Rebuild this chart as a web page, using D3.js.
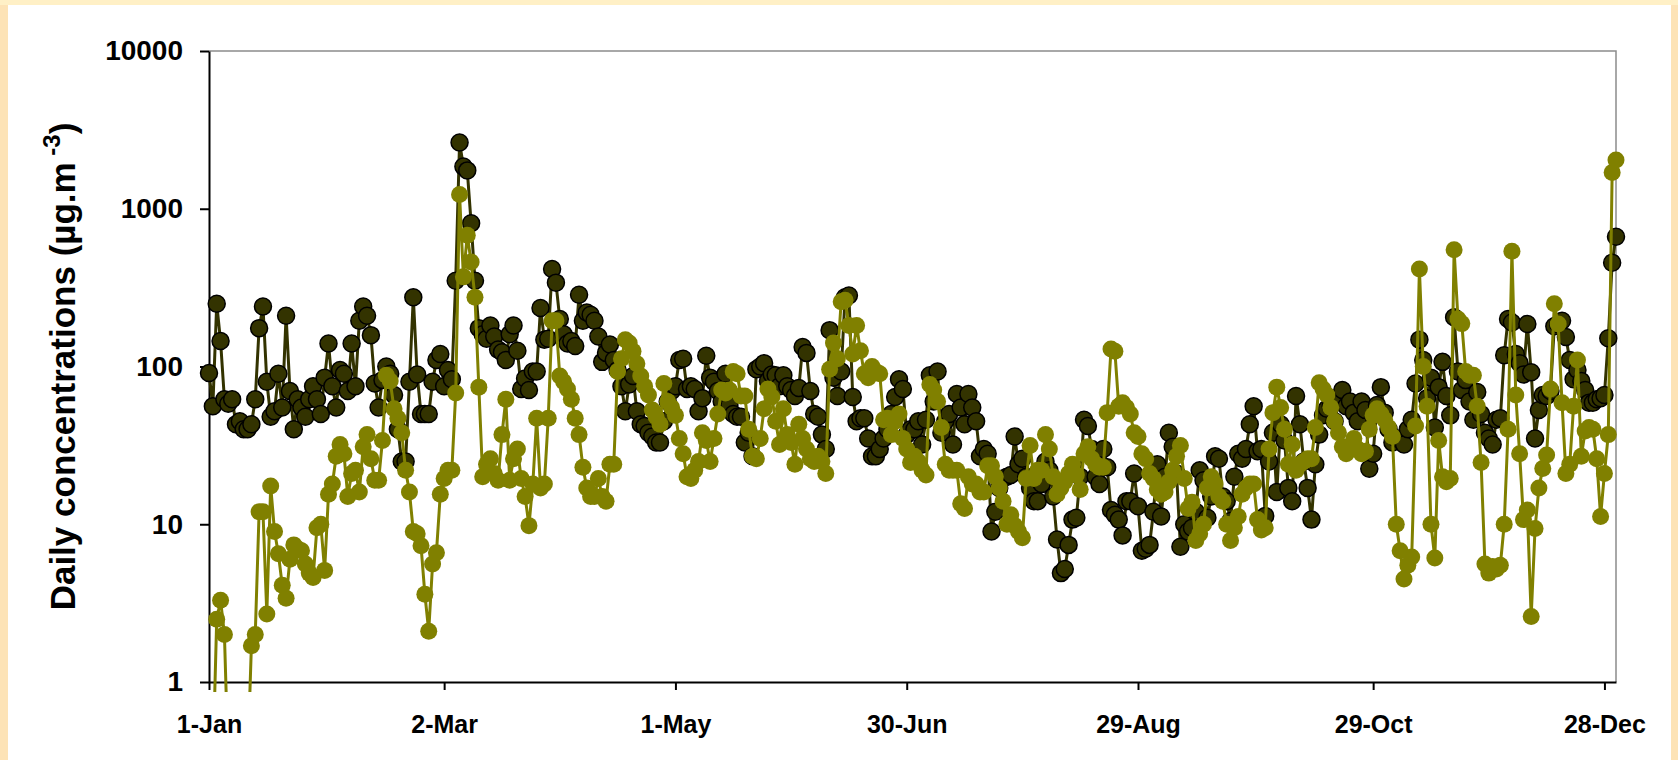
<!DOCTYPE html>
<html>
<head>
<meta charset="utf-8">
<script src="https://cdn.jsdelivr.net/npm/d3@7"></script>
<style>
  html, body { margin: 0; padding: 0; background: #fff; }
  svg { display: block; }
</style>
</head>
<body>
<svg id="chart"></svg>
<script>
const year = 2000;
const tickLabels = ['1-Jan', '2-Mar', '1-May', '30-Jun', '29-Aug', '29-Oct', '28-Dec'];
const yTicks = [1, 10, 100, 1000, 10000];

// daily values, 1-Jan .. 31-Dec (values below 1 fall under the axis)
const darkSeries = [
  91, 56, 250, 145, 62, 58, 62, 43, 45, 40,
  40, 43, 62, 175, 240, 80, 48, 52, 90, 55,
  210, 70, 40, 62, 55, 48, 62, 75, 62, 50,
  85, 140, 75, 55, 95, 90, 70, 140, 75, 195,
  240, 210, 158, 78, 55, 82, 100, 90, 66, 40,
  25, 25, 80, 275, 89, 50, 50, 50, 80, 110,
  120, 75, 95, 83, 350, 2630, 1850, 1750, 810, 350,
  175, 160, 150, 182, 155, 128, 123, 110, 160, 182,
  126, 72, 84, 71, 93, 93, 235, 148, 150, 415,
  340, 200, 160, 140, 145, 135, 285, 195, 220, 213,
  195, 155, 107, 122, 138, 110, 95, 75, 52, 77,
  87, 52, 43, 42, 38, 36, 33, 33, 45, 60,
  70, 75, 110, 112, 72, 75, 72, 52, 63, 117,
  85, 80, 70, 60, 90, 57, 50, 48, 48, 33,
  38, 27, 96, 100, 105, 81, 89, 88, 75, 88,
  75, 71, 65, 73, 133, 122, 70, 50, 48, 37,
  30, 170, 85, 65, 93, 275, 282, 64, 45, 47,
  47, 35, 27, 27, 30, 35, 40, 50, 64, 83,
  72, 37, 40, 40, 45, 32, 46, 88, 60, 93,
  38, 45, 50, 32, 67, 55, 43, 67, 55, 45,
  27, 30, 28, 9, 12, 17, 19.5, 20, 20.5, 36,
  24, 26, 20, 17, 14, 14, 18, 25, 22, 15,
  8, 4.9, 5.2, 7.4, 10.7, 11, 20, 46, 42, 30,
  20, 18, 30, 23, 12.3, 11.5, 10.7, 8.5, 14, 14,
  21, 13, 6.8, 7, 7.4, 12, 24, 11.2, 20, 38,
  31, 21, 7.2, 10, 9, 9.5, 12, 22, 19, 11,
  15, 27, 26, 15, 14, 10.5, 20, 28, 26, 30,
  43, 56, 29, 30, 11.3, 25, 38, 16, 43, 34,
  17, 14, 65, 43, 25, 17, 10.7, 24, 37, 49,
  54, 56, 45, 60, 71, 56, 60, 51, 45, 60,
  53, 22.5, 28, 57, 74, 51, 40, 33, 35, 35,
  32, 40, 46, 78, 148, 110, 63, 85, 41, 74,
  107, 65, 49, 205, 93, 71, 82, 60, 46, 69,
  50, 38, 35, 32, 46, 47, 118, 200, 190, 120,
  105, 89, 186, 92, 35, 53, 66, 65, 70, 180,
  186, 195, 154, 110, 83, 95, 81, 71, 59, 59,
  62, 63, 66, 151, 455, 665,
];

const oliveSeries = [
  0.3, 0.3, 2.5, 3.3, 2.0, 0.3, 0.3, 0.3, 0.3, 0.3,
  0.3, 1.7, 2.0, 12, 12, 2.7, 17.5, 9, 6.5, 4.1,
  3.4, 6, 7.4, 7, 6.8, 5.6, 4.9, 4.6, 9.5, 10,
  5.1, 15.5, 18, 27, 32, 28, 15, 21, 22, 16,
  31, 37, 26, 19, 19, 34, 88, 81, 54, 47,
  38, 22, 16, 9, 8.7, 7.3, 3.6, 2.1, 5.6, 6.6,
  15.5, 19.5, 22, 22, 68, 1230, 370, 680, 460, 275,
  74, 20, 24, 26, 21, 19, 37, 62, 19, 26,
  30, 19.5, 15, 9.8, 18, 47, 17, 18, 47, 195,
  195, 87, 80, 72, 62, 47, 37, 23, 17, 15,
  15, 19.5, 15, 14, 24, 24, 93, 112, 148, 141,
  125, 104, 87, 75, 66, 53, 48, 43, 78, 60,
  55, 49, 35, 28, 20, 19.5, 22, 25, 38, 34,
  25, 35, 50, 71, 68, 71, 93, 90, 65, 65,
  40, 27, 26, 35, 54, 72, 64, 45, 32, 54,
  37, 33, 24, 43, 35, 30, 26, 25, 27, 25,
  21, 96, 141, 112, 257, 263, 182, 120, 182, 126,
  90, 85, 100, 93, 90, 46, 47, 37, 45, 50,
  35, 30, 24.6, 27, 25, 22, 20.5, 77, 71, 60,
  41, 24, 22, 22, 22, 13.5, 12.6, 20, 18, 18,
  16, 16, 23.5, 23.5, 20, 17, 14, 10, 11.5, 9.8,
  9, 8.2, 19.5, 31.6, 19.5, 22, 22, 37, 30, 20,
  15.5, 17, 18.7, 21, 24, 20.5, 16.6, 28, 31, 26,
  24, 23, 23, 51, 129, 125, 56, 59, 55, 50,
  38, 36, 28, 26, 21, 19.5, 16.6, 15.5, 16, 18.6,
  22, 27, 31.6, 19.5, 12.6, 13.8, 7.9, 8.7, 10, 17,
  20, 18, 15, 14, 10, 7.9, 9.5, 11.2, 15.5, 17,
  18, 18, 10.7, 9.2, 9.5, 30, 51, 74, 55, 40,
  24, 32, 22, 24, 25, 26, 26, 41, 79, 72,
  66, 55, 45, 38, 31, 28, 30, 35, 30, 28,
  29, 40, 49, 54, 50, 46, 41, 36, 10, 6.8,
  4.5, 5.5, 6.2, 42, 415, 100, 56, 10, 6.1, 34,
  20, 18.6, 19.5, 550, 200, 187, 93, 88, 88, 56,
  24.6, 5.6, 4.9, 5.4, 5.2, 5.5, 10, 40, 537, 66,
  28, 10.7, 12.3, 2.6, 9.4, 17, 22.6, 27.5, 72, 250,
  186, 59, 21, 24, 56, 110, 27, 39, 41, 40,
  26, 11.2, 21, 37, 1700, 2040,
];

const config = {
  width: 1678,
  height: 760,
  marginTop: 51,
  marginRight: 62,
  marginBottom: 78,
  marginLeft: 209,
  font: "'Liberation Sans', Arial, Helvetica, sans-serif",
  darkColor: '#333300',
  oliveColor: '#808000',
  strokeWidth: 3,
  radius: 8.5,
};

const { width, height, marginTop, marginRight, marginBottom, marginLeft } = config;

const svg = d3
  .select('#chart')
  .attr('width', width)
  .attr('height', height)
  .attr('viewBox', [0, 0, width, height])
  .style('font-family', config.font);

const start = new Date(year, 0, 1);
const dates = d3.map(darkSeries, (_, i) => d3.timeDay.offset(start, i));
const parseTick = d3.timeParse('%d-%b-%Y');
const tickDates = tickLabels.map((l) => parseTick(`${l}-${year}`));

const x = d3.scaleTime([start, new Date(year, 11, 31)], [marginLeft, width - marginRight]);
const y = d3.scaleLog([1, 10000], [height - marginBottom, marginTop]);

/**
 * background frame
 */
svg.append('rect').attr('width', width).attr('height', height).attr('fill', '#fde3b6');
svg.append('rect').attr('width', width).attr('height', 5).attr('fill', '#fff0c6');
svg.append('rect').attr('x', 8).attr('y', 5).attr('width', width - 15).attr('height', height - 5).attr('fill', '#ffffff');

// grey plot-area border (top, right)
svg
  .append('path')
  .attr('d', `M${marginLeft},${marginTop}H${width - marginRight}V${height - marginBottom}`)
  .attr('fill', 'none')
  .attr('stroke', '#8c8c8c')
  .attr('stroke-width', 1.5);

/**
 * axes
 */
const styleAxis = (g, size) => {
  g.attr('font-family', config.font).attr('font-size', size).attr('font-weight', 'bold');
  g.select('.domain').attr('stroke', '#000').attr('stroke-width', 2);
  g.selectAll('.tick line').attr('stroke', '#000').attr('stroke-width', 2);
  g.selectAll('.tick text').attr('fill', '#000');
};

svg
  .append('g')
  .attr('transform', `translate(0,${height - marginBottom})`)
  .call(
    d3.axisBottom(x).tickValues(tickDates).tickFormat(d3.timeFormat('%-d-%b')).tickSize(8).tickPadding(25).tickSizeOuter(0),
  )
  .call((g) => styleAxis(g, 25));

svg
  .append('g')
  .attr('transform', `translate(${marginLeft},0)`)
  .call(d3.axisLeft(y).tickValues(yTicks).tickFormat(d3.format('d')).tickSize(9).tickPadding(17).tickSizeOuter(0))
  .call((g) => styleAxis(g, 28));

const title = svg
  .append('text')
  .attr('transform', `translate(75,${(marginTop + height - marginBottom) / 2}) rotate(-90)`)
  .attr('text-anchor', 'middle')
  .attr('font-size', 35)
  .attr('font-weight', 'bold')
  .attr('fill', '#000');
title.append('tspan').text('Daily concentrations (µg.m');
title.append('tspan').attr('font-size', 24).attr('dy', -15).text(' -3');
title.append('tspan').attr('dy', 15).text(')');

/**
 * series
 */
svg
  .append('defs')
  .append('clipPath')
  .attr('id', 'plot_clip')
  .append('rect')
  .attr('x', 0)
  .attr('y', 0)
  .attr('width', width)
  .attr('height', height - marginBottom + 10);

const renderSeries = (series, color, outline) => {
  const g = svg.append('g').attr('clip-path', 'url(#plot_clip)');
  const line = d3
    .line()
    .x((_, i) => x(dates[i]))
    .y((d) => y(d));
  g.append('path')
    .attr('d', line(series))
    .attr('fill', 'none')
    .attr('stroke', color)
    .attr('stroke-width', config.strokeWidth)
    .attr('stroke-linejoin', 'round');
  g.selectAll('circle')
    .data(series)
    .join('circle')
    .attr('cx', (_, i) => x(dates[i]))
    .attr('cy', (d) => y(d))
    .attr('r', config.radius)
    .attr('fill', color)
    .attr('stroke', outline || 'none')
    .attr('stroke-width', 1.5);
};

renderSeries(darkSeries, config.darkColor, '#000');
renderSeries(oliveSeries, config.oliveColor, null);
</script>
</body>
</html>
